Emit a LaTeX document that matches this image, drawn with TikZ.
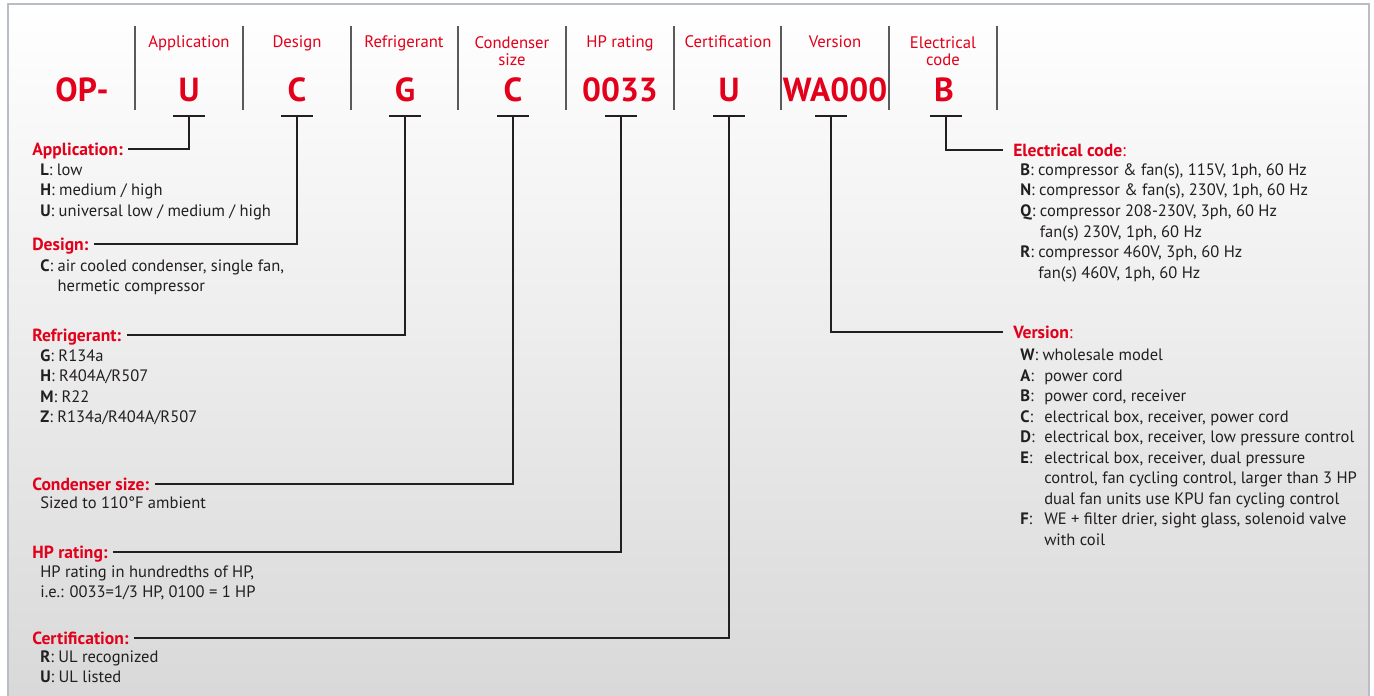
\documentclass[tikz,border=0pt]{standalone}
\usepackage{fontspec}
\setmainfont{PT Sans}
\definecolor{brandred}{HTML}{E2001A}
\definecolor{ink}{HTML}{231F20}
\definecolor{sepgray}{HTML}{5A5A5A}
\definecolor{framegray}{HTML}{B8BEC3}
\newcommand\hangfor[1]{\phantom{\textbf{#1}: }}
\newcommand\vkey[1]{\makebox[1.45em][l]{\textbf{#1}:}}
\tikzset{
  head/.style={anchor=base, align=center, text=brandred, inner sep=0pt,
    font=\fontsize{9.5}{10.2}\selectfont},
  codeletter/.style={anchor=base, text=brandred, inner sep=0pt,
    font=\fontsize{19}{20}\selectfont\bfseries},
  sep/.style={sepgray, line width=0.6pt},
  tbar/.style={ink, line width=0.85pt},
  leader/.style={ink, line width=0.85pt},
  lbl/.style={anchor=west, text=brandred, text height=7pt, text depth=0pt,
    inner xsep=3pt, inner ysep=0pt, font=\fontsize{10}{11}\selectfont\bfseries},
  rlbl/.style={lbl, inner xsep=5.5pt},
  % base of a multi-line desc node is its last line
  desc/.style={anchor=base west, align=left, inner sep=0pt, text=ink,
    font=\fontsize{9.4}{11.7}\selectfont},
}
\begin{document}
\begin{tikzpicture}[x=0.02cm, y=-0.02cm]
    \useasboundingbox (0,0) rectangle (1374,696);

    % panel
    \shade[top color=white, middle color=black!5, bottom color=black!15]
        (8,4) rectangle (1369,696);
    \draw[framegray, line width=1.3pt] (8,696) -- (8,4) -- (1369,4) -- (1369,696);

    % code row
    \draw[sep] (135,26) -- (135,110);
    \draw[sep] (243,26) -- (243,110);
    \draw[sep] (351,26) -- (351,110);
    \draw[sep] (458,26) -- (458,110);
    \draw[sep] (566,26) -- (566,110);
    \draw[sep] (674,26) -- (674,110);
    \draw[sep] (781,26) -- (781,110);
    \draw[sep] (889,26) -- (889,110);
    \draw[sep] (997,26) -- (997,110);

    \node[codeletter] (cOP) at (82,102) {OP-};

    \node[head] (hApp) at (189,48) {Application};
    \node[head] (hDes) at (297,48) {Design};
    \node[head] (hRef) at (404,48) {Refrigerant};
    \node[head] (hCon) at (512,66) {Condenser\\size};
    \node[head] (hHP)  at (620,48) {HP rating};
    \node[head] (hCer) at (728,48) {Certification};
    \node[head] (hVer) at (835,48) {Version};
    \node[head] (hEle) at (943,66) {Electrical\\code};

    \node[codeletter] (cApp) at (189,102) {U};
    \node[codeletter] (cDes) at (297,102) {C};
    \node[codeletter] (cRef) at (405,102) {G};
    \node[codeletter] (cCon) at (513,102) {C};
    \node[codeletter] (cHP)  at (620,102) {0033};
    \node[codeletter] (cCer) at (729,102) {U};
    \node[codeletter] (cVer) at (835,102) {WA000};
    \node[codeletter] (cEle) at (944,102) {B};

    % tee marks under the codes
    \coordinate (tApp) at (189,116);
    \coordinate (tDes) at (297,116);
    \coordinate (tRef) at (405,116);
    \coordinate (tCon) at (513,116);
    \coordinate (tHP)  at (621,116);
    \coordinate (tCer) at (729,116);
    \coordinate (tVer) at (831,116);
    \coordinate (tEle) at (946,116);
    \draw[tbar] ([xshift=-9pt]tApp) -- ([xshift=9pt]tApp);
    \draw[tbar] ([xshift=-9pt]tDes) -- ([xshift=9pt]tDes);
    \draw[tbar] ([xshift=-9pt]tRef) -- ([xshift=9pt]tRef);
    \draw[tbar] ([xshift=-9pt]tCon) -- ([xshift=9pt]tCon);
    \draw[tbar] ([xshift=-9pt]tHP) -- ([xshift=9pt]tHP);
    \draw[tbar] ([xshift=-9pt]tCer) -- ([xshift=9pt]tCer);
    \draw[tbar] ([xshift=-9pt]tVer) -- ([xshift=9pt]tVer);
    \draw[tbar] ([xshift=-9pt]tEle) -- ([xshift=9pt]tEle);

    % left legend
    \node[lbl] (lApp) at (26.7,149) {Application:};
    \node[desc] (dApp) at (40,216.3) {\textbf{L}: low\\
        \textbf{H}: medium / high\\
        \textbf{U}: universal low / medium / high};

    \node[lbl] (lDes) at (26.7,244) {Design:};
    \node[desc] (dDes) at (40,291.6) {\textbf{C}: air cooled condenser, single fan,\\
        \hangfor{C}hermetic compressor};

    \node[lbl] (lRef) at (26.7,335) {Refrigerant:};
    \node[desc] (dRef) at (40,422.9) {\textbf{G}: R134a\\
        \textbf{H}: R404A/R507\\
        \textbf{M}: R22\\
        \textbf{Z}: R134a/R404A/R507};

    \node[lbl] (lCon) at (26.7,484) {Condenser size:};
    \node[desc] (dCon) at (40,508) {Sized to 110°F ambient};

    \node[lbl] (lHP) at (26.7,552) {HP rating:};
    \node[desc] (dHP) at (40,597.6) {HP rating in hundredths of HP,\\
        i.e.: 0033=1/3 HP, 0100 = 1 HP};

    \node[lbl] (lCer) at (26.7,638) {Certification:};
    \node[desc] (dCer) at (40,682.6) {\textbf{R}: UL recognized\\
        \textbf{U}: UL listed};

    % right legend
    \node[rlbl] (lEle) at (1003.3,150) {Electrical code\mdseries:};
    \node[desc] (dEle) at (1020,278.2) {\textbf{B}: compressor \& fan(s), 115V, 1ph, 60 Hz\\
        \textbf{N}: compressor \& fan(s), 230V, 1ph, 60 Hz\\
        \textbf{Q}: compressor 208-230V, 3ph, 60 Hz\\
        \hangfor{Q}fan(s) 230V, 1ph, 60 Hz\\
        \textbf{R}: compressor 460V, 3ph, 60 Hz\\
        \hangfor{R}fan(s) 460V, 1ph, 60 Hz};

    \node[rlbl] (lVer) at (1003.3,332) {Version\mdseries:};
    \node[desc] (dVer) at (1020,545.5) {\textbf{W}: wholesale model\\
        \vkey{A}power cord\\
        \vkey{B}power cord, receiver\\
        \vkey{C}electrical box, receiver, power cord\\
        \vkey{D}electrical box, receiver, low pressure control\\
        \vkey{E}electrical box, receiver, dual pressure\\
        \hspace{1.45em}control, fan cycling control, larger than 3 HP\\
        \hspace{1.45em}dual fan units use KPU fan cycling control\\
        \vkey{F}WE + filter drier, sight glass, solenoid valve\\
        \hspace{1.45em}with coil};

    % leaders
    \draw[leader] (tApp) |- (lApp.east);
    \draw[leader] (tDes) |- (lDes.east);
    \draw[leader] (tRef) |- (lRef.east);
    \draw[leader] (tCon) |- (lCon.east);
    \draw[leader] (tHP)  |- (lHP.east);
    \draw[leader] (tCer) |- (lCer.east);
    \draw[leader] (tVer) |- (lVer.west);
    \draw[leader] (tEle) |- (lEle.west);
\end{tikzpicture}
\end{document}
